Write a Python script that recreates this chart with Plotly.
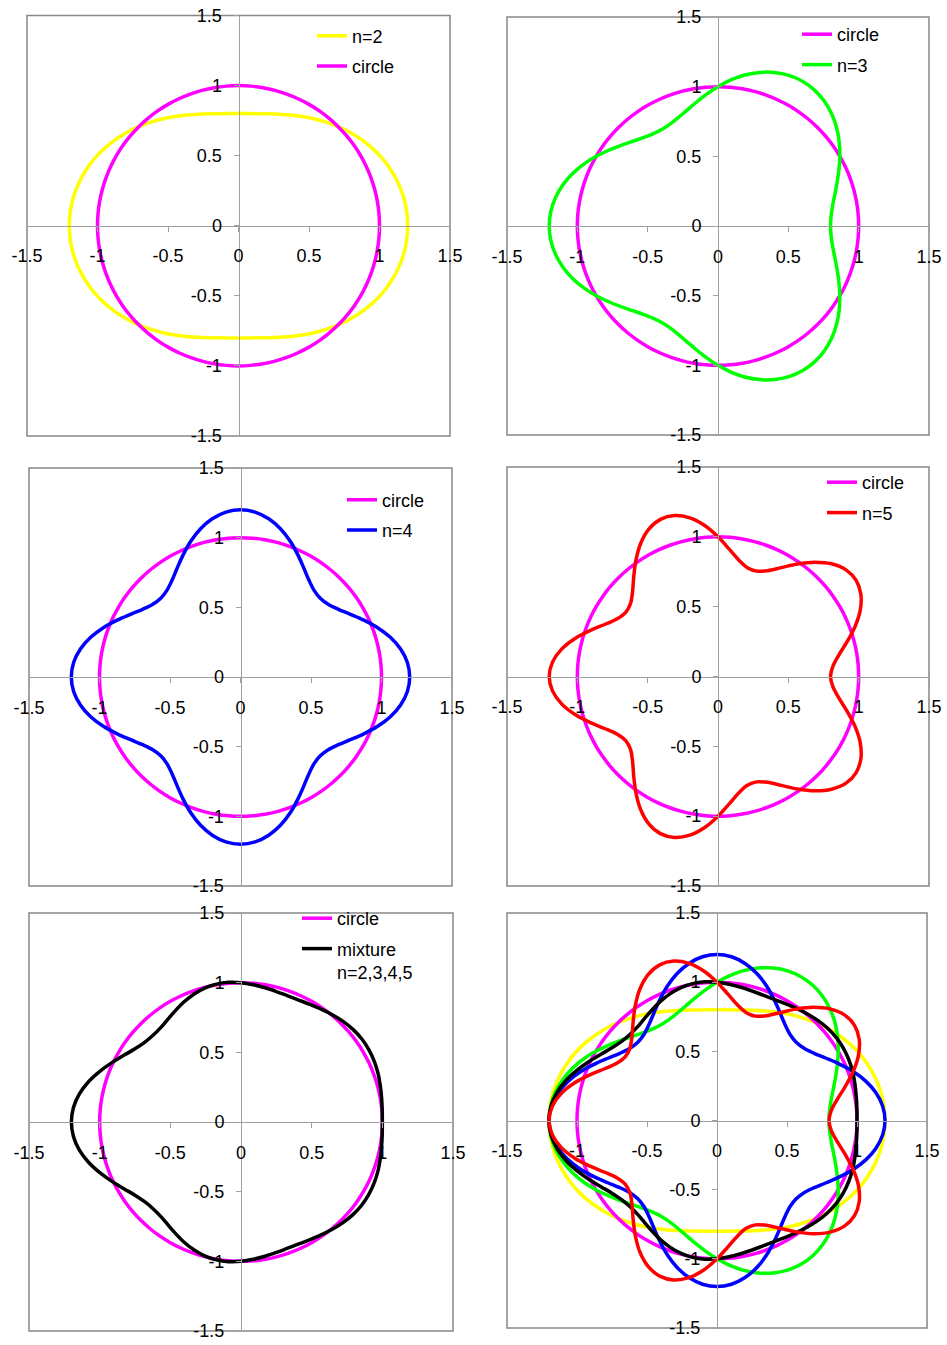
import math
import plotly.graph_objects as go

# ---------------- data (radius r at each angle) ----------------
angles_deg = [0, 5, 10, 15, 20, 25, 30, 35, 40, 45, 50, 55, 60, 65, 70, 75, 80, 85,
              90, 95, 100, 105, 110, 115, 120, 125, 130, 135, 140, 145, 150, 155, 160, 165, 170, 175,
              180, 185, 190, 195, 200, 205, 210, 215, 220, 225, 230, 235, 240, 245, 250, 255, 260, 265,
              270, 275, 280, 285, 290, 295, 300, 305, 310, 315, 320, 325, 330, 335, 340, 345, 350, 355]

circle_r = [1.0] * 72

n2_r = [1.2, 1.197, 1.188, 1.173, 1.153, 1.129, 1.1, 1.068, 1.035, 1.0, 0.965, 0.932, 0.9, 0.871, 0.847, 0.827, 0.812, 0.803,
        0.8, 0.803, 0.812, 0.827, 0.847, 0.871, 0.9, 0.932, 0.965, 1.0, 1.035, 1.068, 1.1, 1.129, 1.153, 1.173, 1.188, 1.197,
        1.2, 1.197, 1.188, 1.173, 1.153, 1.129, 1.1, 1.068, 1.035, 1.0, 0.965, 0.932, 0.9, 0.871, 0.847, 0.827, 0.812, 0.803,
        0.8, 0.803, 0.812, 0.827, 0.847, 0.871, 0.9, 0.932, 0.965, 1.0, 1.035, 1.068, 1.1, 1.129, 1.153, 1.173, 1.188, 1.197]

n3_r = [0.8, 0.807, 0.827, 0.859, 0.9, 0.948, 1.0, 1.052, 1.1, 1.141, 1.173, 1.193,
        1.2, 1.193, 1.173, 1.141, 1.1, 1.052, 1.0, 0.948, 0.9, 0.859, 0.827, 0.807,
        0.8, 0.807, 0.827, 0.859, 0.9, 0.948, 1.0, 1.052, 1.1, 1.141, 1.173, 1.193,
        1.2, 1.193, 1.173, 1.141, 1.1, 1.052, 1.0, 0.948, 0.9, 0.859, 0.827, 0.807,
        0.8, 0.807, 0.827, 0.859, 0.9, 0.948, 1.0, 1.052, 1.1, 1.141, 1.173, 1.193,
        1.2, 1.193, 1.173, 1.141, 1.1, 1.052, 1.0, 0.948, 0.9, 0.859, 0.827, 0.807]

n4_r = [1.2, 1.188, 1.153, 1.1, 1.035, 0.965, 0.9, 0.847, 0.812, 0.8, 0.812, 0.847, 0.9, 0.965, 1.035, 1.1, 1.153, 1.188,
        1.2, 1.188, 1.153, 1.1, 1.035, 0.965, 0.9, 0.847, 0.812, 0.8, 0.812, 0.847, 0.9, 0.965, 1.035, 1.1, 1.153, 1.188,
        1.2, 1.188, 1.153, 1.1, 1.035, 0.965, 0.9, 0.847, 0.812, 0.8, 0.812, 0.847, 0.9, 0.965, 1.035, 1.1, 1.153, 1.188,
        1.2, 1.188, 1.153, 1.1, 1.035, 0.965, 0.9, 0.847, 0.812, 0.8, 0.812, 0.847, 0.9, 0.965, 1.035, 1.1, 1.153, 1.188]

n5_r = [0.8, 0.819, 0.871, 0.948, 1.035, 1.115, 1.173, 1.199, 1.188, 1.141, 1.068, 0.983, 0.9, 0.836, 0.803, 0.807, 0.847, 0.915,
        1.0, 1.085, 1.153, 1.193, 1.197, 1.164, 1.1, 1.017, 0.932, 0.859, 0.812, 0.801, 0.827, 0.885, 0.965, 1.052, 1.129, 1.181,
        1.2, 1.181, 1.129, 1.052, 0.965, 0.885, 0.827, 0.801, 0.812, 0.859, 0.932, 1.017, 1.1, 1.164, 1.197, 1.193, 1.153, 1.085,
        1.0, 0.915, 0.847, 0.807, 0.803, 0.836, 0.9, 0.983, 1.068, 1.141, 1.188, 1.199, 1.173, 1.115, 1.035, 0.948, 0.871, 0.819]

mixture_r = [1.0, 1.003, 1.010, 1.020, 1.031, 1.039, 1.043, 1.042, 1.034, 1.021, 1.005, 0.989, 0.975, 0.966, 0.964, 0.969, 0.978, 0.989,
             1.0, 1.006, 1.005, 0.995, 0.976, 0.952, 0.925, 0.901, 0.884, 0.880, 0.890, 0.916, 0.957, 1.008, 1.063, 1.117, 1.161, 1.190,
             1.2, 1.190, 1.161, 1.117, 1.063, 1.008, 0.957, 0.916, 0.890, 0.880, 0.884, 0.901, 0.925, 0.952, 0.976, 0.995, 1.005, 1.006,
             1.0, 0.989, 0.978, 0.969, 0.964, 0.966, 0.975, 0.989, 1.005, 1.021, 1.034, 1.042, 1.043, 1.039, 1.031, 1.020, 1.010, 1.003]

tick_vals = [-1.5, -1, -0.5, 0, 0.5, 1, 1.5]
tick_text = ["-1.5", "-1", "-0.5", "0", "0.5", "1", "1.5"]

series_names = {"circle": "circle", "n2": "n=2", "n3": "n=3", "n4": "n=4", "n5": "n=5",
                "mix": "mixture<br>n=2,3,4,5"}
series_r = {"circle": circle_r, "n2": n2_r, "n3": n3_r, "n4": n4_r, "n5": n5_r, "mix": mixture_r}
series_color = {"circle": "#FF00FF", "n2": "#FFFF00", "n3": "#00FF00", "n4": "#0000FF",
                "n5": "#FF0000", "mix": "#000000"}

# ---------------- layout (pixel boxes of the six panels, in window pixels) ----------------
W, H = 947, 1345
OFF = 0                      # body margin removed by the post script below
FONT = "Liberation Sans, Arial, sans-serif"
AXC = "#a0a0a0"
BOXC = "#868686"


def px(x):
    return (x - OFF) / W


def py(y):
    return 1 - (y - OFF) / H


panels = [
    dict(x0=27, x1=450, y0=15.5, y1=436, series=["n2", "circle"], leg=(312, 17.5)),
    dict(x0=507, x1=929, y0=17, y1=435, series=["circle", "n3"], leg=(797, 16)),
    dict(x0=29, x1=452, y0=468, y1=886, series=["circle", "n4"], leg=(342, 481.5)),
    dict(x0=507, x1=929, y0=467, y1=886, series=["circle", "n5"], leg=(822, 464)),
    dict(x0=29, x1=453, y0=913, y1=1331, series=["circle", "mix"], leg=(297, 900)),
    dict(x0=507, x1=927, y0=913, y1=1328, series=["n2", "circle", "n3", "n4", "mix", "n5"], leg=None),
]


def xy(rs):
    xs = [r * math.cos(math.radians(a)) for r, a in zip(rs, angles_deg)]
    ys = [r * math.sin(math.radians(a)) for r, a in zip(rs, angles_deg)]
    return xs + xs[:1], ys + ys[:1]


fig = go.Figure()
layout = dict(width=W, height=H, margin=dict(l=0, r=0, t=0, b=0, pad=0, autoexpand=False),
              paper_bgcolor="white", plot_bgcolor="white", shapes=[])

for k, p in enumerate(panels, start=1):
    sfx = "" if k == 1 else str(k)
    legname = "legend" if k == 1 else f"legend{k}"
    for s in p["series"]:
        xs, ys = xy(series_r[s])
        fig.add_trace(go.Scatter(
            x=xs, y=ys, mode="lines", name=series_names[s],
            line=dict(color=series_color[s], width=3.5, shape="spline", smoothing=1),
            xaxis="x" + sfx, yaxis="y" + sfx,
            showlegend=p["leg"] is not None,
            legend=legname if p["leg"] is not None else None,
            legendgroup=f"{k}-{s}",
            hoverinfo="skip",
        ))
    xc = (p["x0"] + p["x1"]) / 2
    yc = (p["y0"] + p["y1"]) / 2
    common = dict(range=[-1.5, 1.5], showgrid=False, zeroline=False, showline=True,
                  linecolor=AXC, linewidth=1, ticks="outside", ticklen=5, tickcolor=AXC,
                  tickwidth=1, tickmode="array", tickvals=tick_vals, ticktext=tick_text,
                  tickfont=dict(family=FONT, size=18, color="black"), anchor="free",
                  fixedrange=True, automargin=False, ticklabeloverflow="allow")
    layout["xaxis" + sfx] = dict(common, domain=[px(p["x0"]), px(p["x1"])],
                                 position=py(yc), ticklabelstandoff=9)
    layout["yaxis" + sfx] = dict(common, domain=[py(p["y1"]), py(p["y0"])],
                                 position=px(xc), ticklabelstandoff=8)
    layout["shapes"].append(dict(type="rect", xref=f"x{sfx} domain", yref=f"y{sfx} domain",
                                 x0=0, x1=1, y0=0, y1=1, line=dict(color=BOXC, width=1.5),
                                 layer="below"))
    if p["leg"] is not None:
        lx, ly = p["leg"]
        layout[legname] = dict(x=px(lx), y=py(ly), xanchor="left", yanchor="top",
                               bgcolor="rgba(0,0,0,0)", borderwidth=0,
                               font=dict(family=FONT, size=18, color="black"),
                               tracegroupgap=4, traceorder="grouped",
                               valign="top" if k == 5 else "middle")

fig.update_layout(**layout)
fig.write_html("out.html",
               config={"displayModeBar": False, "staticPlot": True},
               post_script="document.body.style.margin='0';document.body.style.overflow='hidden';")
